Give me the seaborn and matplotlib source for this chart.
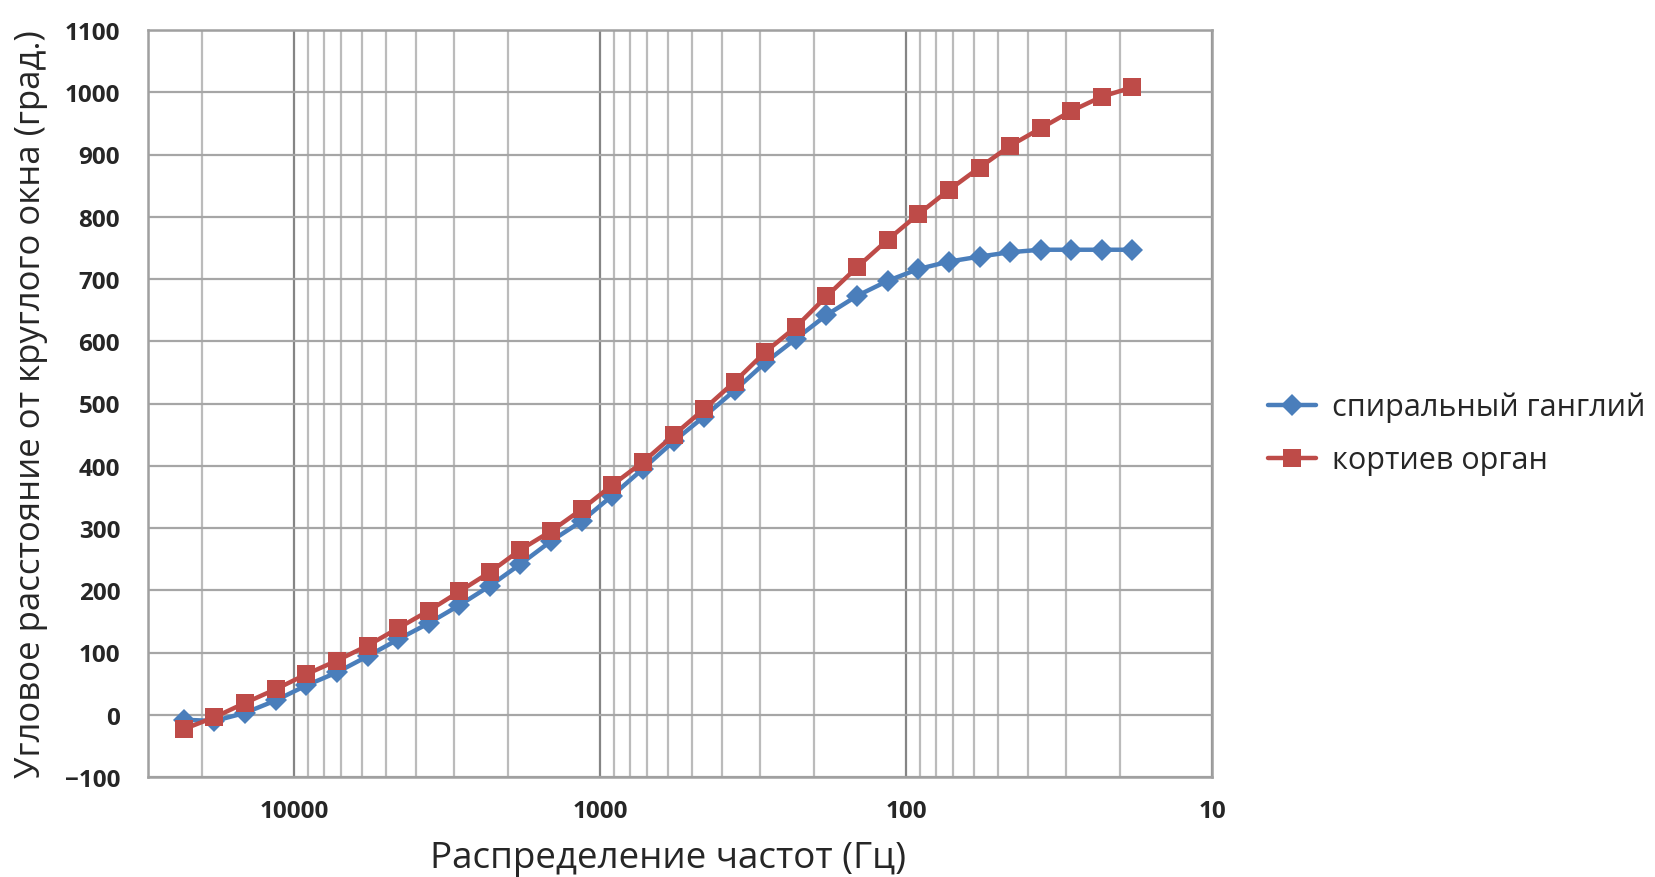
import numpy as np
import pandas as pd
import matplotlib
matplotlib.use("Agg")
import matplotlib.pyplot as plt
import seaborn as sns
from matplotlib.ticker import LogLocator, FixedLocator, FixedFormatter, NullFormatter

# Data (frequency in Hz, angular distance in degrees)
freq = [22900, 18200, 14450, 11480, 9120, 7240, 5750, 4570, 3630, 2880,
        2290, 1820, 1445, 1148, 912, 724, 575, 457, 363, 288,
        229, 182, 144.5, 114.8, 91.2, 72.4, 57.5, 45.7, 36.3, 28.8,
        22.9, 18.2]
spiral_ganglion = [-8, -10, 3, 23, 47, 68, 94, 121, 147, 176,
                   207, 242, 279, 311, 352, 395, 439, 479, 521, 566,
                   604, 642, 673, 697, 716, 728, 736, 743, 747, 747,
                   747, 747]
organ_corti = [-23, -4, 19, 41, 65, 87, 111, 139, 167, 198,
               229, 265, 295, 330, 369, 406, 449, 491, 535, 583,
               623, 672, 719, 763, 804, 843, 879, 914, 942, 970,
               993, 1008]
series_names = ["спиральный ганглий", "кортиев орган"]
x_ticks = [10000, 1000, 100, 10]
x_tick_labels = ["10000", "1000", "100", "10"]
y_ticks = list(range(-100, 1101, 100))

df = pd.DataFrame({
    "freq": freq * 2,
    "value": spiral_ganglion + organ_corti,
    "series": [series_names[0]] * len(freq) + [series_names[1]] * len(freq),
})

sns.set_style("white")
plt.rcParams['font.family'] = ['Open Sans', 'DejaVu Sans']

fig = plt.figure(figsize=(16.55, 8.78), dpi=100)
ax = fig.add_axes([148/1655, 1-778/878, (1212-148)/1655, (778-31)/878])

blue = "#4A7EBB"
red = "#BE4B48"

sns.lineplot(data=df, x="freq", y="value", hue="series", style="series",
             palette={series_names[0]: blue, series_names[1]: red},
             markers={series_names[0]: "D", series_names[1]: "s"},
             dashes=False, sort=False, ax=ax, linewidth=3.2,
             markeredgewidth=0, estimator=None)
for line, ms in zip(ax.get_lines(), [11, 12.5]):
    line.set_markersize(ms)

ax.set_xscale("log")
ax.set_xlim(30000, 10)
ax.set_ylim(-100, 1100)

ax.xaxis.set_major_locator(FixedLocator(x_ticks))
ax.xaxis.set_major_formatter(FixedFormatter(x_tick_labels))
ax.xaxis.set_minor_locator(LogLocator(base=10, subs=np.arange(2, 10)))
ax.xaxis.set_minor_formatter(NullFormatter())
ax.set_yticks(y_ticks)

ax.grid(True, which="major", axis="x", color="#858585", linewidth=1.6)
ax.grid(True, which="minor", axis="x", color="#BBBBBB", linewidth=1.6)
ax.grid(True, which="major", axis="y", color="#A6A6A6", linewidth=1.6)
ax.set_axisbelow(True)
for s in ax.spines.values():
    s.set_color("#A0A0A0")
    s.set_linewidth(1.8)

ax.tick_params(axis="both", which="both", length=0)
ax.tick_params(axis="x", pad=16)
ax.tick_params(axis="y", pad=20)
for lab in ax.get_xticklabels() + ax.get_yticklabels():
    lab.set_fontweight("bold")
    lab.set_fontsize(17.5)

ax.set_xlabel("Распределение частот (Гц)", fontsize=26.5)
ax.xaxis.set_label_coords(0.489, -0.085)
ax.set_ylabel("Угловое расстояние от круглого окна (град.)", fontsize=25, labelpad=12)

handles, labels = ax.get_legend_handles_labels()
for h, ms in zip(handles, [11, 12.5]):
    h.set_markersize(ms)
ax.legend(handles, labels, loc="center left", bbox_to_anchor=(1240/1655, 0.505),
          bbox_transform=fig.transFigure, frameon=False, fontsize=22,
          handlelength=1.6, handletextpad=0.5, labelspacing=0.75)

fig.savefig("out.png", dpi=100)
